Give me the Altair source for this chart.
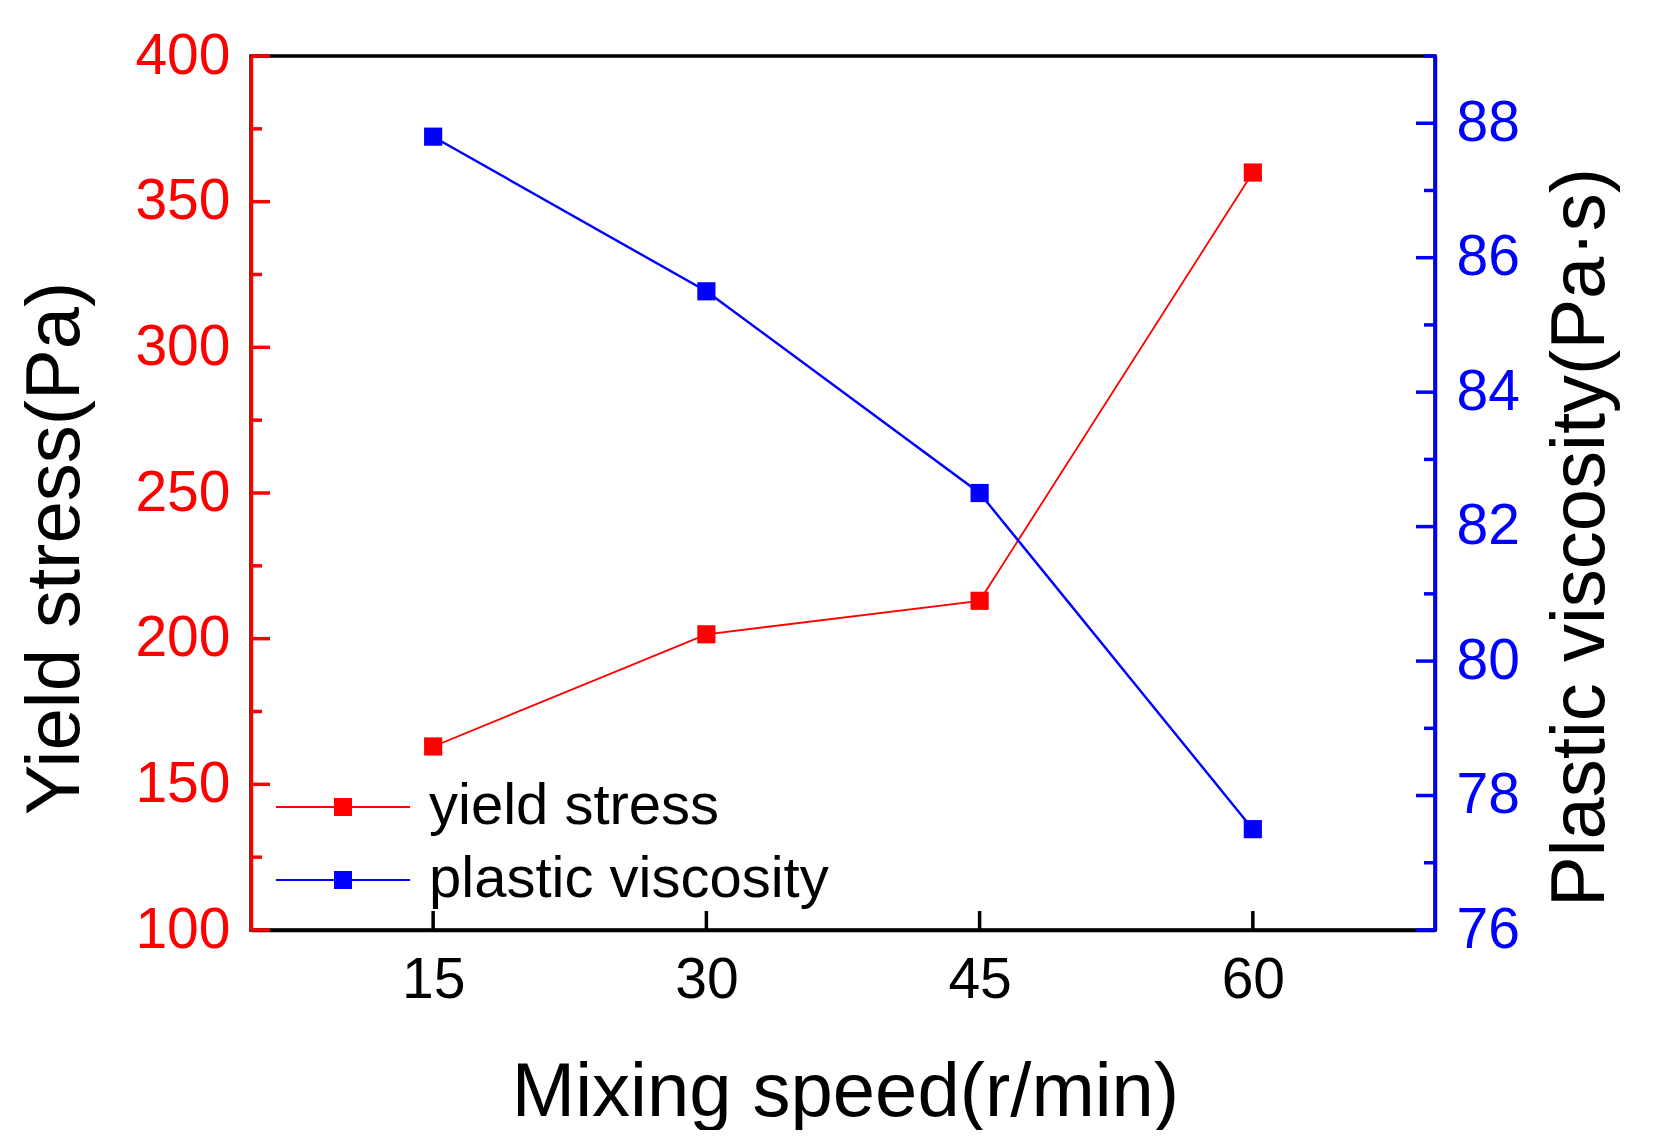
import altair as alt
import pandas as pd

# ---- data ----
speeds = [15, 30, 45, 60]
yield_stress = [163, 201.5, 213, 360]
plastic_viscosity = [87.8, 85.5, 82.5, 77.5]
series_names = ["yield stress", "plastic viscosity"]

x_ticks = [15, 30, 45, 60]
left_ticks = [100, 150, 200, 250, 300, 350, 400]
left_minor = [125, 175, 225, 275, 325, 375]
right_ticks = [76, 78, 80, 82, 84, 86, 88]
right_minor = [77, 79, 81, 83, 85, 87, 89]

F = "Arial, Liberation Sans, sans-serif"
W, H = 1184, 874
MAJ, MIN = 19, 11
RED, BLUE = "#ff0000", "#0000ff"

df_ys = pd.DataFrame({"speed": speeds, "value": yield_stress, "series": series_names[0]})
df_pv = pd.DataFrame({"speed": speeds, "value": plastic_viscosity, "series": series_names[1]})
df_xt = pd.DataFrame({"speed": x_ticks})
df_lmaj = pd.DataFrame({"value": left_ticks})
df_lmin = pd.DataFrame({"value": left_minor})
df_rmaj = pd.DataFrame({"value": right_ticks})
df_rmin = pd.DataFrame({"value": right_minor})

x_scale = alt.Scale(domain=[5, 70], nice=False, zero=False)
l_scale = alt.Scale(domain=[100, 400], nice=False, zero=False)
r_scale = alt.Scale(domain=[76, 89], nice=False, zero=False)

x_axis = alt.Axis(values=x_ticks, title="Mixing speed(r/min)", ticks=False, tickSize=0,
                  labelFontSize=57, labelPadding=22, labelFont=F, labelColor="black",
                  labelFlush=False, labelOverlap=False,
                  domainColor="black", domainWidth=3.5, grid=False,
                  titleFont=F, titleFontSize=76, titleFontWeight="normal", titleColor="black",
                  titleBaseline="alphabetic", titleAlign="center", titleX=594, titleY=185)

l_axis = alt.Axis(values=left_ticks, format="d", orient="left", title="Yield stress(Pa)",
                  ticks=False, tickSize=0, labelPadding=21, labelFontSize=57, labelFont=F,
                  labelColor=RED, labelFlush=False, labelOverlap=False,
                  domainColor=RED, domainWidth=3.5, grid=False,
                  titleFont=F, titleFontSize=76, titleFontWeight="normal", titleColor="black",
                  titleAngle=270, titleAlign="center", titleBaseline="alphabetic",
                  titleX=-173, titleY=492)

r_axis = alt.Axis(values=right_ticks, format="d", orient="right", title="Plastic viscosity(Pa·s)",
                  ticks=False, tickSize=0, labelPadding=21, labelFontSize=57, labelFont=F,
                  labelColor=BLUE, labelFlush=False, labelOverlap=False,
                  domainColor=BLUE, domainWidth=3.5, grid=False,
                  titleFont=F, titleFontSize=76, titleFontWeight="normal", titleColor="black",
                  titleAngle=270, titleAlign="center", titleBaseline="alphabetic",
                  titleX=168, titleY=481)

sym_path = "M-7.44,-0.1H7.44V0.1H-7.44Z M-1,-1H1V1H-1Z"
legend = alt.Legend(orient="none", legendX=63, legendY=722, direction="vertical", title=None,
                    symbolType=sym_path, symbolSize=324, symbolStrokeWidth=0,
                    labelFontSize=58, labelFont=F, labelColor="black", labelOffset=57,
                    labelLimit=0, rowPadding=15, padding=0)
color = alt.Color("series:N", scale=alt.Scale(domain=series_names, range=[RED, BLUE]),
                  legend=legend)

X = alt.X("speed:Q", scale=x_scale, axis=x_axis)

ys_line = alt.Chart(df_ys).mark_line(color=RED, strokeWidth=1.8).encode(
    x=X, y=alt.Y("value:Q", scale=l_scale, axis=l_axis))
ys_pts = alt.Chart(df_ys).mark_square(size=330, filled=True, opacity=1).encode(
    x=X, y=alt.Y("value:Q", scale=l_scale, axis=l_axis), color=color)
l_maj = alt.Chart(df_lmaj).mark_rule(color=RED, strokeWidth=3.5).encode(
    y=alt.Y("value:Q", scale=l_scale, axis=l_axis), x=alt.value(0), x2=alt.value(MAJ))
l_min = alt.Chart(df_lmin).mark_rule(color=RED, strokeWidth=3.5).encode(
    y=alt.Y("value:Q", scale=l_scale, axis=l_axis), x=alt.value(0), x2=alt.value(MIN))
x_maj = alt.Chart(df_xt).mark_rule(color="black", strokeWidth=3.5).encode(
    x=X, y=alt.value(H), y2=alt.value(H - MAJ))

pv_line = alt.Chart(df_pv).mark_line(color=BLUE, strokeWidth=2.4).encode(
    x=X, y=alt.Y("value:Q", scale=r_scale, axis=r_axis))
pv_pts = alt.Chart(df_pv).mark_square(size=330, filled=True, opacity=1).encode(
    x=X, y=alt.Y("value:Q", scale=r_scale, axis=r_axis), color=color)
r_maj = alt.Chart(df_rmaj).mark_rule(color=BLUE, strokeWidth=3.5).encode(
    y=alt.Y("value:Q", scale=r_scale, axis=r_axis), x=alt.value(W), x2=alt.value(W - MAJ))
r_min = alt.Chart(df_rmin).mark_rule(color=BLUE, strokeWidth=3.5).encode(
    y=alt.Y("value:Q", scale=r_scale, axis=r_axis), x=alt.value(W), x2=alt.value(W - MIN))

left_group = alt.layer(l_maj, l_min, x_maj, ys_line, ys_pts)
right_group = alt.layer(r_maj, r_min, pv_line, pv_pts)

chart = alt.layer(left_group, right_group).resolve_scale(y="independent").properties(
    width=W, height=H,
    autosize=alt.AutoSizeParams(type="none"),
    padding={"left": 243, "top": 48, "right": 200, "bottom": 200},
    background="white",
).configure_view(stroke="black", strokeWidth=3.5)

chart.save("out.html", embed_options={"renderer": "svg", "actions": False})
